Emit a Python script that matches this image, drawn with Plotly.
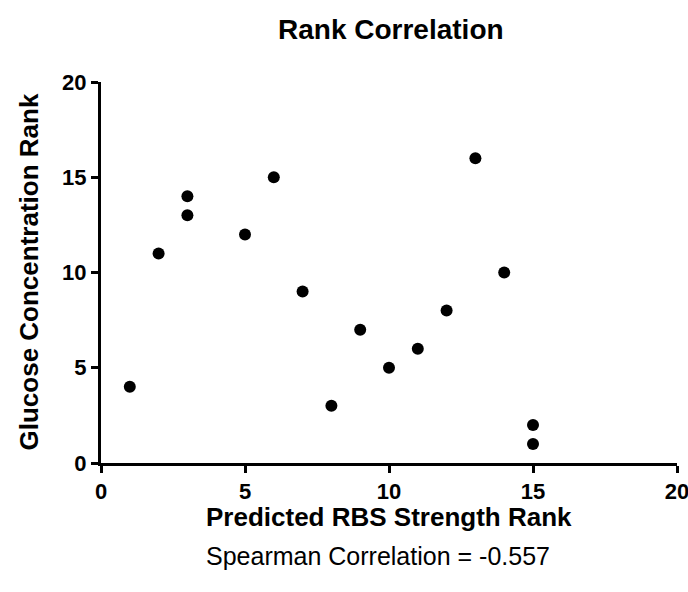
import plotly.graph_objects as go

rbs_rank = [1, 2, 3, 3, 5, 6, 7, 8, 9, 10, 11, 12, 13, 14, 15, 15]
glucose_rank = [4, 11, 14, 13, 12, 15, 9, 3, 7, 5, 6, 8, 16, 10, 2, 1]
tick_vals = [0, 5, 10, 15, 20]

FONT = "Liberation Sans, Arial, sans-serif"

fig = go.Figure()
fig.add_trace(go.Scatter(
    x=rbs_rank, y=glucose_rank, mode="markers",
    marker=dict(color="black", size=12, line=dict(width=0)),
    showlegend=False, cliponaxis=False,
))

axis_common = dict(
    showgrid=False, zeroline=False, showline=True, linecolor="black", linewidth=3,
    ticks="outside", ticklen=7, tickwidth=3, tickcolor="black",
    tickfont=dict(family=FONT, size=22, color="black", weight="bold"),
    tickvals=tick_vals, range=[0, 20], automargin=False,
    ticklabeloverflow="allow",
)
fig.update_xaxes(**axis_common)
fig.update_yaxes(**axis_common)

fig.update_layout(
    width=688, height=592, plot_bgcolor="white", paper_bgcolor="white",
    margin=dict(l=101, r=11, t=82, b=129, autoexpand=False),
    annotations=[
        dict(text="<b>Rank Correlation</b>", x=0.5, xref="paper", xshift=2, y=1, yref="paper",
             yshift=53, yanchor="middle", xanchor="center", showarrow=False,
             font=dict(family=FONT, size=28, color="black")),
        dict(text="<b>Predicted RBS Strength Rank</b>", x=0.5, xref="paper", y=0, yref="paper",
             yshift=-54, yanchor="middle", xanchor="center", showarrow=False,
             font=dict(family=FONT, size=26, color="black")),
        dict(text="<b>Glucose Concentration Rank</b>", x=0, xref="paper", xshift=-73,
             xanchor="center", y=0.5, yref="paper", yanchor="middle", textangle=-90,
             showarrow=False, font=dict(family=FONT, size=26, color="black")),
        dict(text="Spearman Correlation = -0.557", x=0.5, xref="paper", xshift=-11,
             xanchor="center", y=0, yref="paper", yshift=-93, yanchor="middle",
             showarrow=False, font=dict(family=FONT, size=25, color="black")),
    ],
)

fig.write_html("out.html")
